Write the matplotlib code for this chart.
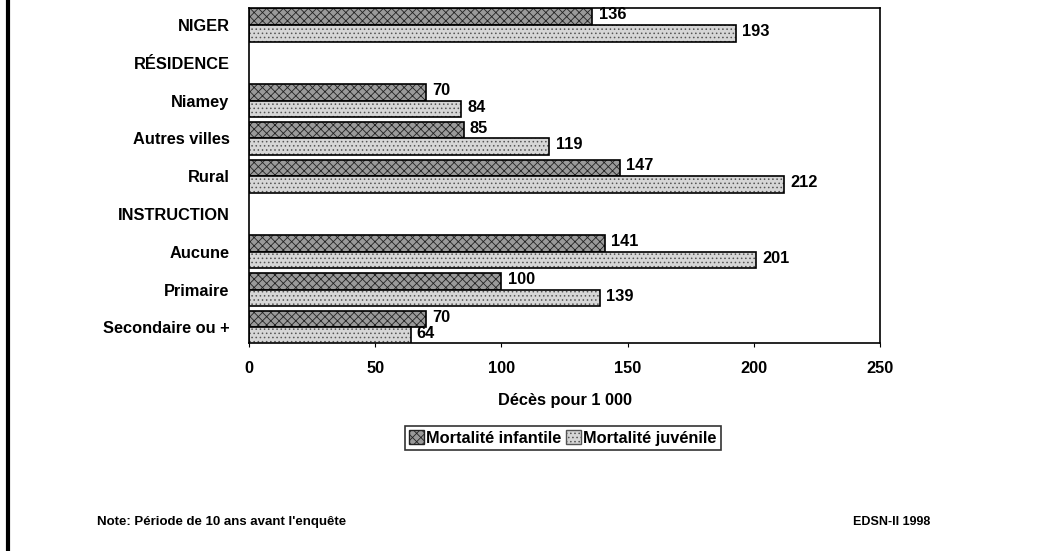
import matplotlib
matplotlib.use("Agg")
import matplotlib.pyplot as plt
import numpy as np
from matplotlib.patches import Patch
from matplotlib.lines import Line2D

plt.rcParams['font.family'] = ['Liberation Sans', 'DejaVu Sans']
plt.rcParams['font.weight'] = 'bold'
plt.rcParams['axes.labelweight'] = 'bold'
plt.rcParams['hatch.linewidth'] = 0.6

# Données
categories = ["NIGER", "RÉSIDENCE", "Niamey", "Autres villes", "Rural",
              "INSTRUCTION", "Aucune", "Primaire", "Secondaire ou +"]
infantile = [136, None, 70, 85, 147, None, 141, 100, 70]
juvenile = [193, None, 84, 119, 212, None, 201, 139, 64]
xticks = [0, 50, 100, 150, 200, 250]

fs = 11.8

fig = plt.figure(figsize=(10.52, 5.51), dpi=100)
ax = fig.add_axes([0.2367, 0.377, 0.5998, 0.6085])

y = np.arange(len(categories))
h = 0.44

def draw_bars(vals, offset, face, hatch, hcol):
    for yi, v in zip(y, vals):
        if v is None:
            continue
        ax.barh(yi + offset, v, height=h, color=face, edgecolor=hcol,
                hatch=hatch, linewidth=0)
        ax.barh(yi + offset, v, height=h, fill=False, edgecolor='black',
                linewidth=1.2)
        ax.text(v + 2.5, yi + offset - 0.05, str(v), va='center', ha='left',
                fontsize=fs)

draw_bars(infantile, -h / 2, '#9a9a9a', 'xxxx', '#222222')
draw_bars(juvenile, h / 2, '#d6d6d6', '....', '#555555')

ax.set_xlim(0, 250)
ax.set_ylim(8.42, -0.45)
ax.set_yticks(y)
ax.set_yticklabels(categories, fontsize=fs)
ax.tick_params(axis='y', length=0, pad=14)
ax.set_xticks(xticks)
ax.tick_params(axis='x', length=3, pad=10, labelsize=fs)
for s in ax.spines.values():
    s.set_linewidth(1.2)
ax.set_xlabel("Décès pour 1 000", fontsize=fs, labelpad=12)

handles = [Patch(facecolor='#9a9a9a', edgecolor='#222222', hatch='xxxx'),
           Patch(facecolor='#d6d6d6', edgecolor='#555555', hatch='....')]
leg = fig.legend(handles, ["Mortalité infantile", "Mortalité juvénile"],
                 loc='center', bbox_to_anchor=(0.535, 0.205), ncol=2,
                 fontsize=fs, frameon=True, fancybox=False,
                 handlelength=0.9, handleheight=0.9, handletextpad=0.15,
                 columnspacing=0.3, borderpad=0.25, borderaxespad=0)
leg.get_frame().set_edgecolor('black')
leg.get_frame().set_linewidth(1.2)

fig.text(0.092, 0.052, "Note: Période de 10 ans avant l'enquête",
         fontsize=9.5, va='center', ha='left')
fig.text(0.884, 0.052, "EDSN-II 1998", fontsize=9, va='center',
         ha='right')

fig.add_artist(Line2D([0.008, 0.008], [0, 1], color='black', linewidth=3,
                      transform=fig.transFigure))

fig.savefig("out.png", dpi=100)
